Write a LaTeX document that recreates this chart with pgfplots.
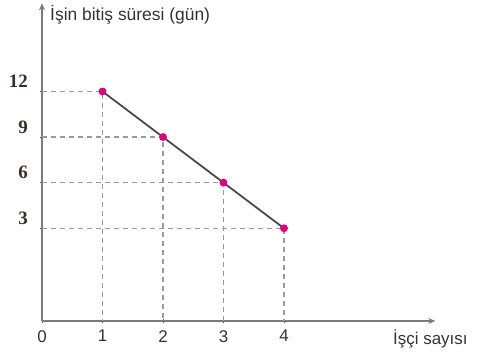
\documentclass[border=0pt]{standalone}
\usepackage{pgfplots}
\pgfplotsset{compat=1.18}
\usetikzlibrary{arrows.meta}
\usepackage{fontspec}
\setmainfont{Liberation Sans}
\newfontfamily\seriffont{Liberation Serif}
\definecolor{axgray}{HTML}{7A7A7A}
\definecolor{dashgray}{HTML}{9A9A9A}
\definecolor{linegray}{HTML}{4A4A4A}
\definecolor{mag}{HTML}{E6007E}
\definecolor{ylab}{HTML}{3A3020}
\begin{document}
\begin{tikzpicture}
\useasboundingbox (0,0) rectangle (480bp,362bp);
\begin{axis}[
  anchor=south west, at={(42bp,41bp)},
  scale only axis,
  x=60.5bp, y=15.2bp,
  xmin=0, xmax=6.5, ymin=-3.1, ymax=17.8,
  axis x line=bottom, axis y line=left,
  axis line style={axgray, line width=2.4bp, -{Stealth[length=7bp,width=6bp]}},
  xtick={0,1,2,3,4}, xticklabels={0,1,2,3,4},
  ytick={3,6,9,12}, yticklabels={3,6,9,12},
  major tick length=4bp,
  tick style={black!70, line width=1bp},
  xticklabel style={font=\fontsize{17}{17}\selectfont, text=black!80, inner sep=0pt, yshift=-7bp},
  yticklabel style={font=\seriffont\fontsize{19}{19}\selectfont\bfseries, text=ylab, inner sep=0pt, anchor=east, xshift=-12bp, yshift=10bp},
  clip=false,
]
\addplot[dashgray, line width=1.2bp, dash pattern=on 5bp off 4bp] coordinates {(0,12) (1,12) (1,-3.1)};
\addplot[dashgray, line width=1.2bp, dash pattern=on 5bp off 4bp] coordinates {(0,9) (2,9) (2,-3.1)};
\addplot[dashgray, line width=1.2bp, dash pattern=on 5bp off 4bp] coordinates {(0,6) (3,6) (3,-3.1)};
\addplot[dashgray, line width=1.2bp, dash pattern=on 5bp off 4bp] coordinates {(0,3) (4,3) (4,-3.1)};
\addplot[linegray, line width=1.8bp, mark=*, mark size=3bp, mark options={mag, draw=mag, fill=mag}] coordinates {(1,12) (2,9) (3,6) (4,3)};
\end{axis}
\node[anchor=west, inner sep=0pt, text=black!80, font=\fontsize{17.5}{17.5}\selectfont] at (50bp,347bp) {İşin bitiş süresi (gün)};
\node[anchor=west, inner sep=0pt, text=black!80, font=\fontsize{17}{17}\selectfont] at (393bp,23bp) {İşçi sayısı};
\end{tikzpicture}
\end{document}
